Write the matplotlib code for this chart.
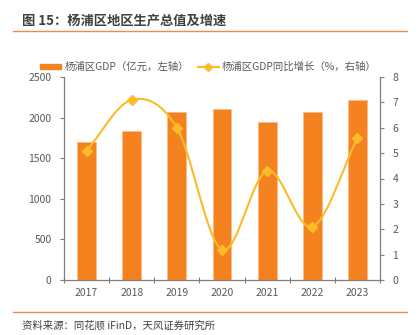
import numpy as np
import matplotlib
matplotlib.use("Agg")
import matplotlib.pyplot as plt
from matplotlib.lines import Line2D
from matplotlib.patches import Patch

plt.rcParams['font.family'] = ['Noto Sans CJK SC', 'DejaVu Sans']

years = ['2017', '2018', '2019', '2020', '2021', '2022', '2023']
gdp = [1700, 1840, 2073, 2102, 1942, 2065, 2213]
growth = [5.1, 7.1, 6.0, 1.2, 4.3, 2.1, 5.6]
left_ticks = [0, 500, 1000, 1500, 2000, 2500]
right_ticks = [0, 1, 2, 3, 4, 5, 6, 7, 8]

bar_color = '#F4821F'
line_color = '#FBBB2A'
grey = '#595959'

fig = plt.figure(figsize=(4.17, 3.35), dpi=100)
ax = fig.add_axes([64/417, 1-280/335, (380-64)/417, (280-77)/335])
ax2 = ax.twinx()

x = np.arange(len(years))
ax.bar(x, gdp, width=0.42, color=bar_color, edgecolor='#F8B98A', linewidth=0.6, zorder=2)
ax.set_xlim(-0.5, len(years) - 0.5)
ax.set_ylim(0, 2500)
ax.set_yticks(left_ticks)
ax.set_xticks(x)
ax.set_xticklabels(years)
ax.set_xticks(np.arange(-0.5, len(years)), minor=True)
ax.tick_params(axis='x', which='major', length=0, pad=6, labelsize=7.5, labelcolor=grey)
ax.tick_params(axis='x', which='minor', length=4, direction='inout', color='#7f7f7f', width=0.8)
ax.tick_params(axis='y', length=3, direction='out', color='#7f7f7f', labelsize=7.5, labelcolor=grey, pad=6)

# Smooth (Catmull-Rom) curve through the data points
def catmull(xs, ys, n=30):
    xs = np.asarray(xs, float); ys = np.asarray(ys, float)
    px = np.concatenate([[2*xs[0]-xs[1]], xs, [2*xs[-1]-xs[-2]]])
    py = np.concatenate([[2*ys[0]-ys[1]], ys, [2*ys[-1]-ys[-2]]])
    outx, outy = [], []
    for i in range(1, len(px)-2):
        t = np.linspace(0, 1, n, endpoint=(i == len(px)-3))
        for arr, out in ((px, outx), (py, outy)):
            p0, p1, p2, p3 = arr[i-1], arr[i], arr[i+1], arr[i+2]
            out.extend(0.5*((2*p1) + (-p0+p2)*t + (2*p0-5*p1+4*p2-p3)*t**2 + (-p0+3*p1-3*p2+p3)*t**3))
    return np.array(outx), np.array(outy)

sx, sy = catmull(x, growth)
ax2.plot(sx, sy, color=line_color, linewidth=1.5, zorder=3)
ax2.plot(x, growth, linestyle='none', marker='D', markersize=5, color=line_color, zorder=4)
ax2.set_ylim(0, 8)
ax2.set_yticks(right_ticks)
ax2.tick_params(axis='y', length=3, direction='out', color='#7f7f7f', labelsize=7.5, labelcolor=grey, pad=6)

for a in (ax, ax2):
    a.spines['top'].set_visible(False)
    for s in ('left', 'right', 'bottom'):
        a.spines[s].set_color('#7f7f7f')
        a.spines[s].set_linewidth(0.9)
ax.spines['right'].set_visible(False)
ax2.spines['left'].set_visible(False)
ax2.spines['bottom'].set_visible(False)

handles = [Patch(facecolor=bar_color, edgecolor=bar_color),
           Line2D([0], [0], color=line_color, marker='D', markersize=4, linewidth=1.5)]
labels = ['杨浦区GDP（亿元，左轴）', '杨浦区GDP同比增长（%，右轴）']
fig.legend(handles, labels, loc='center', bbox_to_anchor=(0.5, 1-67/335), ncol=2,
           frameon=False, fontsize=7.5, labelcolor=grey, handlelength=2.0,
           handleheight=0.45, columnspacing=0.9, handletextpad=0.3)

fig.text(22/417, 1-20/335, '图 15：杨浦区地区生产总值及增速', fontsize=9.5, fontweight='bold',
         color='#404040', va='center', ha='left')
fig.add_artist(Line2D([13/417, 407/417], [1-31/335, 1-31/335], color='#F08A4B', linewidth=1.0))
fig.add_artist(Line2D([13/417, 407/417], [1-312/335, 1-312/335], color='#F08A4B', linewidth=1.0))
fig.text(22/417, 1-325/335, '资料来源：同花顺 iFinD，天风证券研究所', fontsize=7.5,
         color='#404040', va='center', ha='left')

fig.savefig('out.png', dpi=100)
